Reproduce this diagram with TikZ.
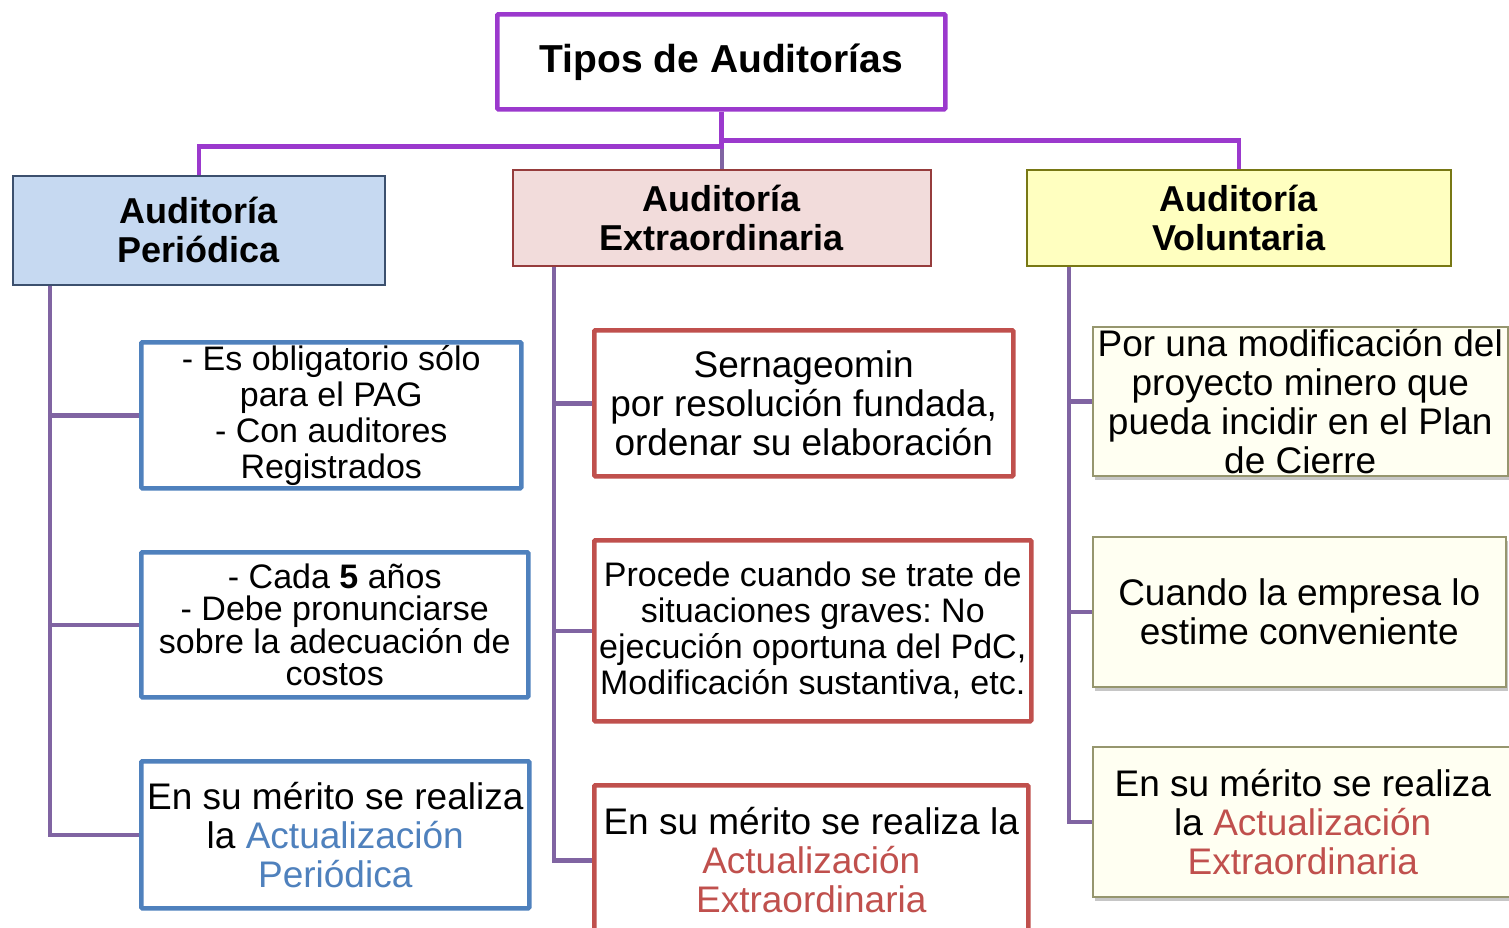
\documentclass[tikz,border=0pt]{standalone}
\usepackage{fontspec}
\setmainfont{Liberation Sans}
\usetikzlibrary{shadows}
\definecolor{rootc}{RGB}{155,57,205}
\definecolor{treec}{RGB}{128,100,162}
\definecolor{bluec}{RGB}{79,129,189}
\definecolor{redc}{RGB}{192,80,77}
\definecolor{pfill}{RGB}{198,217,241}
\definecolor{pdraw}{RGB}{60,80,110}
\definecolor{efill}{RGB}{242,220,219}
\definecolor{edraw}{RGB}{150,60,60}
\definecolor{vfill}{RGB}{255,255,192}
\definecolor{vdraw}{RGB}{120,120,20}
\definecolor{cream}{RGB}{255,255,242}
\definecolor{creamdraw}{RGB}{150,150,110}
\frenchspacing
\tikzset{
  rootbox/.style={draw=rootc, line width=4.5pt, rounded corners=1pt, fill=white, rectangle, anchor=north west, inner sep=0pt, align=center},
  headbox/.style={line width=1.5pt, rectangle, anchor=north west, inner sep=0pt, align=center,
    font=\fontsize{36}{39}\selectfont\bfseries},
  leafbox/.style={line width=4.5pt, rounded corners=1pt, rectangle, anchor=north west, inner sep=0pt, align=center, fill=white,
    font=\fontsize{37}{39}\selectfont},
  volbox/.style={draw=creamdraw, line width=1.5pt, fill=cream, rectangle, anchor=north west, inner sep=0pt, align=center,
    font=\fontsize{37}{39}\selectfont,
    drop shadow={opacity=0.45, shadow xshift=2pt, shadow yshift=-4pt}},
  rootline/.style={draw=rootc, line width=4.5pt},
  treeline/.style={draw=treec, line width=4.5pt, line join=miter},
}
\begin{document}
\begin{tikzpicture}[x=1pt,y=-1pt]
\useasboundingbox (0,0) rectangle (1509,927);

% root
\node[rootbox, minimum width=448pt, minimum height=95pt, font=\fontsize{39}{45}\selectfont\bfseries] (root) at (495,12) {Tipos de Auditorías};

% level 1
\node[headbox, draw=pdraw, fill=pfill, minimum width=372pt, minimum height=109pt] (per) at (12,175) {Auditoría\\Periódica};
\node[headbox, draw=edraw, fill=efill, minimum width=418pt, minimum height=96pt] (ext) at (512,169) {Auditoría\\Extraordinaria};
\node[headbox, draw=vdraw, fill=vfill, minimum width=424pt, minimum height=96pt] (vol) at (1026,169) {Auditoría\\Voluntaria};

% root connectors
\draw[treeline] (ext.north) -- ++(0,-30);
\draw[rootline] (root.south) -- ++(0,35) -| (per.north);
\draw[rootline] (root.south) -- ++(0,29) -| (vol.north);

% left column
\node[leafbox, draw=bluec, minimum width=380pt, minimum height=146pt, font=\fontsize{34}{36}\selectfont] (b1) at (139,340)
  {- Es obligatorio sólo\\para el PAG\\- Con auditores\\Registrados};
\node[leafbox, draw=bluec, minimum width=387pt, minimum height=145pt, font=\fontsize{34}{32}\selectfont] (b2) at (139,550)
  {- Cada \textbf{5} años\\- Debe pronunciarse\\sobre la adecuación de\\costos};
\node[leafbox, draw=bluec, minimum width=388pt, minimum height=147pt] (b3) at (139,759)
  {En su mérito se realiza\\la \textcolor{bluec}{Actualización}\\\textcolor{bluec}{Periódica}};

% middle column
\node[leafbox, draw=redc, minimum width=419pt, minimum height=146pt] (c1) at (592,328)
  {Sernageomin\\por resolución fundada,\\ordenar su elaboración};
\node[leafbox, draw=redc, minimum width=437pt, minimum height=181pt, font=\fontsize{34}{36}\selectfont] (c2) at (592,538)
  {Procede cuando se trate de\\situaciones graves: No\\ejecución oportuna del PdC,\\Modificación sustantiva, etc.};
\node[leafbox, draw=redc, minimum width=434pt, minimum height=150pt] (c3) at (592,783)
  {En su mérito se realiza la\\\textcolor{redc}{Actualización}\\\textcolor{redc}{Extraordinaria}};

% right column
\node[volbox, minimum width=415pt, minimum height=149pt] (d1) at (1092,326)
  {Por una modificación del\\proyecto minero que\\pueda incidir en el Plan\\de Cierre};
\node[volbox, minimum width=413pt, minimum height=150pt] (d2) at (1092,536)
  {Cuando la empresa lo\\estime conveniente};
\node[volbox, minimum width=420pt, minimum height=150pt] (d3) at (1092,746)
  {En su mérito se realiza\\la \textcolor{redc}{Actualización}\\\textcolor{redc}{Extraordinaria}};

% tree lines
\coordinate (tl) at ([xshift=38pt]per.south west);
\coordinate (tm) at ([xshift=42pt]ext.south west);
\coordinate (tr) at ([xshift=43pt]vol.south west);
\draw[treeline] (tl) |- (b3.west);
\draw[treeline] (b1.west) -- (b1.west -| tl);
\draw[treeline] (b2.west) -- (b2.west -| tl);
\draw[treeline] (tm) |- (c3.west);
\draw[treeline] (c1.west) -- (c1.west -| tm);
\draw[treeline] (c2.west) -- (c2.west -| tm);
\draw[treeline] (tr) |- (d3.west);
\draw[treeline] (d1.west) -- (d1.west -| tr);
\draw[treeline] (d2.west) -- (d2.west -| tr);
\end{tikzpicture}
\end{document}
